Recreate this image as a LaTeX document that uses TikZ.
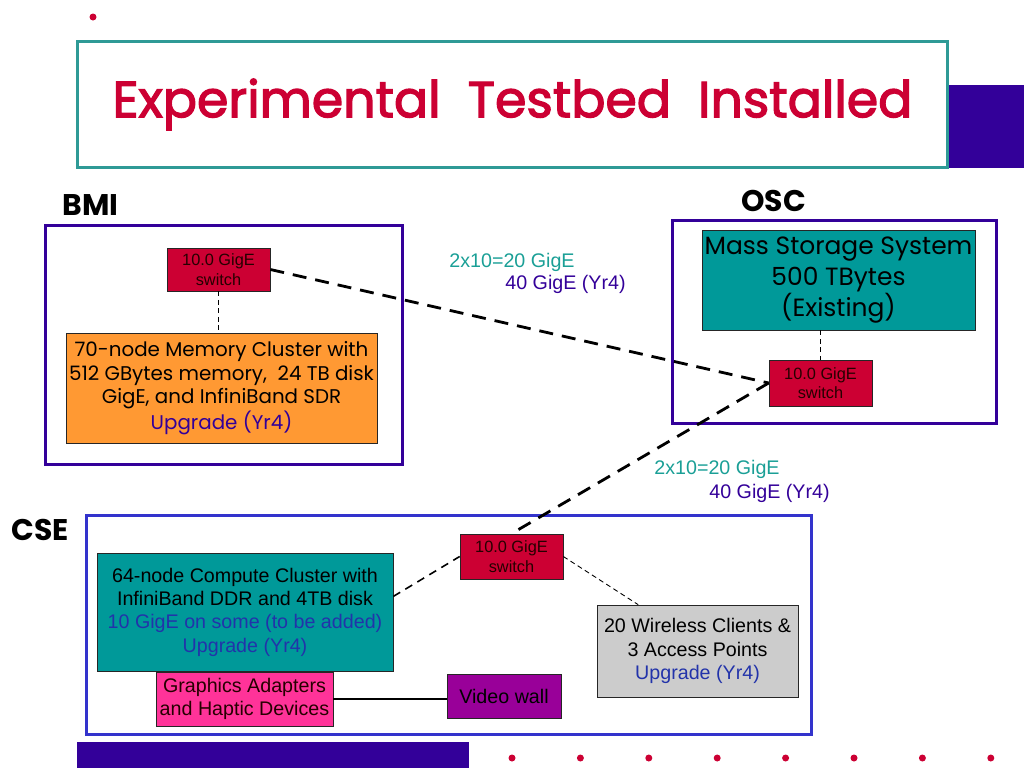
\documentclass[tikz,border=0pt]{standalone}
\usepackage{fontspec}
\setmainfont{Liberation Sans}
\newfontfamily\comicfont{Poppins}
\newfontfamily\headfont[FakeBold=2.5]{Poppins}
\usetikzlibrary{positioning}

\definecolor{crimson}{HTML}{CC0033}
\definecolor{deeppurple}{HTML}{330099}
\definecolor{cseblue}{HTML}{3333CC}
\definecolor{titleteal}{HTML}{2E9A96}
\definecolor{boxteal}{HTML}{009999}
\definecolor{labelteal}{HTML}{1A9F96}
\definecolor{clusterorange}{HTML}{FF9933}
\definecolor{hotpink}{HTML}{FF3399}
\definecolor{wallpurple}{HTML}{990099}
\definecolor{lightgray}{HTML}{CCCCCC}
\definecolor{upgradeblue}{HTML}{2233AA}

\begin{document}
\begin{tikzpicture}[x=0.02cm, y=-0.02cm,
    region/.style={rectangle, draw=deeppurple, line width=1.7pt, fill=white},
    switchbox/.style={rectangle, draw=black!85, fill=crimson, minimum width=20.6mm, minimum height=8.6mm, align=center, inner sep=0pt, text=black!85!red, font=\fontsize{9.3}{11}\selectfont},
    infobox/.style={rectangle, draw=black!85, align=center, inner sep=0pt, font=\fontsize{11.2}{13.3}\selectfont},
    sitelabel/.style={anchor=west, inner sep=0pt, font=\comicfont\bfseries\fontsize{17}{20}\selectfont},
    linklabel/.style={anchor=west, inner sep=0pt, font=\fontsize{11.2}{13}\selectfont},
    trunk/.style={line width=1.6pt, dash pattern=on 2.8mm off 1.8mm},
    tap/.style={line width=0.5pt, dash pattern=on 1mm off 0.7mm},
    bullet/.style={circle, fill=crimson, inner sep=0pt, minimum size=1.4mm}
]
    \useasboundingbox (0,0) rectangle (1024,768);

    % title
    \node[bullet] (dot0) at (93,17) {};
    \fill[deeppurple] (948,85) rectangle (1024,168);
    \node[rectangle, draw=titleteal, line width=1.7pt, fill=white, minimum width=174.2mm, minimum height=25.4mm, text=crimson, font=\headfont\fontsize{28.8}{34}\selectfont] (title) at (512.5,104.5) {Experimental\ \ Testbed\ \ Installed};

    % sites
    \node[region] (bmi) at (224,345) [minimum width=71.6mm, minimum height=48mm] {};
    \node[region] (osc) at (834.5,322) [minimum width=65mm, minimum height=40.8mm] {};
    \node[region, draw=cseblue] (cse) at (449,625) [minimum width=145.2mm, minimum height=44mm] {};
    \node[sitelabel] (bminame) at (62,205) {BMI};
    \node[sitelabel] (oscname) at (741,201) {OSC};
    \node[sitelabel] (csename) at (11,530) {CSE};

    % BMI
    \node[switchbox] (bmisw) at (218.5,269.5) {10.0 GigE\\switch};
    \node[infobox, fill=clusterorange, minimum width=62.2mm, minimum height=22mm, font=\comicfont\fontsize{11.3}{13.6}\selectfont] (memclu) at (221.5,388) {70-node Memory Cluster with\\512 GBytes memory,\ \ 24 TB disk\\GigE, and InfiniBand SDR\\\textcolor{deeppurple}{Upgrade (Yr4)}};

    % OSC
    \node[infobox, fill=boxteal, minimum width=54.6mm, minimum height=20mm, font=\comicfont\fontsize{14.2}{17.6}\selectfont] (massst) at (838.5,280) {Mass Storage System\\500 TBytes\\(Existing)};
    \node[switchbox, minimum height=9.2mm] (oscsw) at (820.5,383) {10.0 GigE\\switch};

    % CSE
    \node[switchbox, minimum height=9mm] (csesw) at (511.5,556.5) {10.0 GigE\\switch};
    \node[infobox, fill=boxteal, minimum width=59.2mm, minimum height=23.6mm] (compclu) at (245,612) {64-node Compute Cluster with\\InfiniBand DDR and 4TB disk\\\textcolor{upgradeblue}{10 GigE on some (to be added)}\\\textcolor{upgradeblue}{Upgrade (Yr4)}};
    \node[infobox, fill=lightgray, minimum width=40.2mm, minimum height=18.4mm] (wireless) at (697.5,651) {20 Wireless Clients \&\\3 Access Points\\\textcolor{upgradeblue}{Upgrade (Yr4)}};
    \node[infobox, fill=hotpink, minimum width=35.4mm, minimum height=10.8mm, text=black!85!red] (graphics) at (244.5,699) {Graphics Adapters\\and Haptic Devices};
    \node[infobox, fill=wallpurple, minimum width=22.8mm, minimum height=8.8mm] (vidwall) at (504,696) {Video wall};

    % links
    \draw[trunk] (bmisw.east) -- (oscsw.west);
    \draw[trunk] (oscsw.west) -- (csesw.north);
    \draw[tap] (bmisw.south) -- (bmisw.south |- memclu.north);
    \draw[tap] (massst.south -| oscsw.north) -- (oscsw.north);
    \draw[line width=0.9pt, dash pattern=on 1.6mm off 1.2mm] (compclu.6) -- (csesw.west);
    \draw[tap] (csesw.east) -- (wireless.142);
    \draw[line width=1.6pt] (graphics.east) -- (graphics.east -| vidwall.west);

    \node[linklabel, text=labelteal] (bwa) at (449,262) {2x10=20 GigE};
    \node[linklabel, text=deeppurple] (bwb) at (505,284) {40 GigE (Yr4)};
    \node[linklabel, text=labelteal] (bwc) at (654,469) {2x10=20 GigE};
    \node[linklabel, text=deeppurple] (bwd) at (709,493) {40 GigE (Yr4)};

    % footer
    \fill[deeppurple] (77,742) rectangle (469,768);
    \foreach \i in {0,...,7}
        \node[bullet] (foot\i) at (512+68.4*\i,758) {};
\end{tikzpicture}
\end{document}
